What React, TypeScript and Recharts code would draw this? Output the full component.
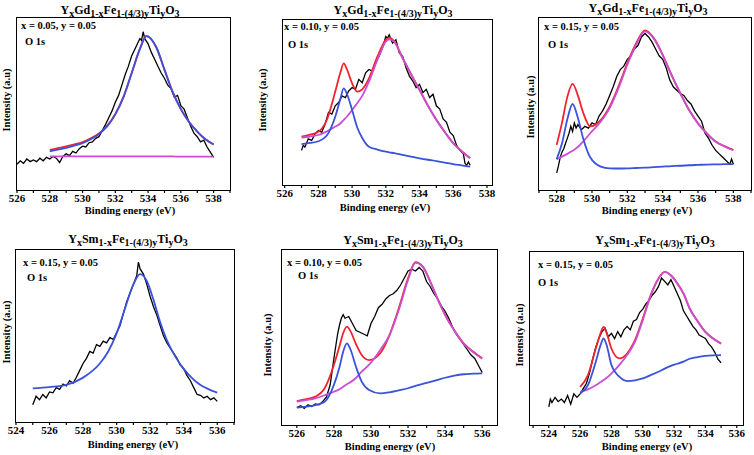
import { LineChart, Line, XAxis, YAxis } from "recharts";

type Pt = [number, number];

// ---- panel 1: YxGd, x = 0.05 ----
const p1Raw: Pt[] = [
  [526.0, 15], [526.2, 17], [526.4, 15.5], [526.6, 18], [526.8, 16.5], [527.0, 17.5], [527.2, 16.5], [527.4, 18.5],
  [527.6, 17], [527.8, 19], [528.0, 18], [528.2, 19.5], [528.4, 18.5], [528.6, 16], [528.8, 19.5], [529.0, 21],
  [529.2, 20], [529.4, 22.5], [529.6, 21.5], [529.8, 24], [530.0, 25.5], [530.2, 25], [530.4, 27.5], [530.6, 28],
  [530.8, 30], [531.0, 31], [531.2, 34.5], [531.4, 38], [531.6, 42], [531.8, 46], [532.0, 51], [532.2, 55],
  [532.4, 61], [532.6, 67], [532.8, 72], [533.0, 78], [533.2, 82], [533.4, 86], [533.5, 88], [533.6, 87],
  [533.7, 92], [533.8, 88], [534.0, 85], [534.2, 80], [534.4, 76], [534.6, 72], [534.8, 68], [535.0, 65],
  [535.2, 61], [535.4, 59], [535.6, 54], [535.8, 55], [536.0, 49], [536.2, 47], [536.4, 42], [536.6, 37],
  [536.8, 33], [537.0, 31], [537.2, 28], [537.4, 29], [537.6, 25], [537.8, 22], [538.0, 19],
];
const p1FitE = [528, 528.5, 529, 529.5, 530, 530.5, 531, 531.5, 532, 532.5, 533, 533.5, 533.9, 534.5, 535, 535.5, 536, 536.5, 537, 537.5, 538];
const p1Red = [23.3, 24.3, 25.3, 26.5, 27.9, 30, 32.9, 37.3, 44.2, 54.1, 68, 82, 89.6, 83, 70, 57, 47, 39.5, 34, 29.5, 26.5];
const p1Blue = [22.5, 23.5, 24.5, 25.8, 27.3, 29.5, 32.5, 37, 44, 54, 68, 82, 89.5, 83, 70, 57, 47, 39.5, 34, 29.5, 26.5];
const p1Pink = [19.6, 19.6, 19.6, 19.6, 19.6, 19.5, 19.5, 19.5, 19.5, 19.5, 19.5, 19.5, 19.5, 19.5, 19.5, 19.5, 19.4, 19.4, 19.4, 19.4, 19.4];

// ---- panel 2: YxGd, x = 0.10 ----
const p2Raw: Pt[] = [
  [527.0, 21], [527.1, 24], [527.2, 23], [527.4, 28], [527.6, 27], [527.8, 31], [528.0, 33], [528.2, 32],
  [528.4, 37], [528.6, 44], [528.8, 43], [529.0, 48], [529.2, 50], [529.4, 54], [529.6, 53], [529.8, 57],
  [530.0, 59], [530.2, 58], [530.4, 64], [530.6, 62], [530.8, 68], [531.0, 70], [531.2, 69], [531.4, 75],
  [531.6, 78], [531.8, 83], [532.0, 90], [532.1, 89], [532.2, 91], [532.4, 86], [532.6, 88], [532.8, 80],
  [533.0, 78], [533.2, 71], [533.4, 66], [533.6, 63], [533.8, 59], [534.0, 61], [534.2, 56], [534.4, 58],
  [534.6, 53], [534.8, 55], [535.0, 48], [535.2, 46], [535.4, 40], [535.6, 38], [535.8, 32], [536.0, 30],
  [536.2, 24], [536.4, 21], [536.6, 19], [536.7, 13], [536.8, 12], [536.9, 14], [537.0, 12],
];
const p2FitE = [527, 527.5, 528, 528.5, 529, 529.3, 529.5, 529.7, 530, 530.3, 530.6, 531, 531.5, 532, 532.2, 532.5, 533, 533.5, 534, 534.5, 535, 535.5, 536, 536.5, 537];
const p2Red = [29.3, 30.5, 32.3, 39.4, 56.6, 68, 73.7, 70, 61.6, 56.6, 58, 64.6, 77.8, 87.9, 89.3, 87, 76.9, 67.1, 57.7, 48.1, 39.5, 32.1, 25.4, 20.5, 16.3];
const p2Blue = [24.8, 25.5, 26.5, 30, 41.4, 52, 58.6, 55, 45.5, 35, 28.5, 23.2, 21.5, 20.2, 19.8, 19.3, 18.2, 17.2, 16.2, 15.3, 14.5, 13.6, 12.7, 11.9, 11.1];
const p2Pink = [28.7, 29.4, 30.3, 32.5, 35.4, 37.3, 39.4, 41.5, 45.5, 49.5, 54, 62.6, 75.8, 86.9, 88.3, 86.9, 76.8, 67, 57.6, 48, 39.4, 32, 25.3, 20.4, 16.2];

// ---- panel 3: YxGd, x = 0.15 ----
const p3Raw: Pt[] = [
  [528.0, 10], [528.1, 14], [528.2, 19], [528.3, 22], [528.4, 24], [528.5, 27], [528.6, 30], [528.7, 33],
  [528.8, 37], [528.9, 34], [529.0, 39], [529.1, 36], [529.2, 38], [529.4, 35], [529.6, 37], [529.8, 36],
  [530.0, 39], [530.2, 38], [530.4, 43], [530.6, 46], [530.8, 50], [531.0, 55], [531.2, 60], [531.4, 66],
  [531.6, 70], [531.8, 72], [532.0, 76], [532.2, 78], [532.4, 82], [532.6, 84], [532.8, 89], [533.0, 91],
  [533.2, 89], [533.4, 86], [533.6, 82], [533.8, 78], [534.0, 76], [534.2, 71], [534.4, 64], [534.6, 60],
  [534.8, 58], [535.0, 56], [535.2, 55], [535.4, 52], [535.6, 50], [535.8, 46], [536.0, 43], [536.2, 40],
  [536.4, 33], [536.6, 30], [536.8, 26], [537.0, 23], [537.2, 21], [537.4, 19], [537.6, 17], [537.8, 15],
  [537.9, 18], [538.0, 15],
];
const p3FitE = [528, 528.3, 528.6, 528.9, 529.2, 529.5, 529.9, 530.5, 531, 531.5, 532, 532.5, 533, 533.5, 534, 534.5, 535, 535.5, 536, 536.5, 537, 537.5, 538];
const p3Red = [26.2, 39, 54, 61.7, 55, 45, 37, 40.8, 48.5, 60.2, 73.8, 85.4, 92.8, 88.3, 78.6, 67, 56.3, 46.5, 38.8, 33, 28.2, 25.5, 23.3];
const p3Blue = [17.9, 27, 41, 50, 42, 30, 19, 13.6, 12.6, 12.5, 12.6, 12.8, 13, 13.3, 13.6, 13.9, 14.1, 14.4, 14.6, 14.8, 14.9, 15, 15.1];
const p3Pink = [17.9, 19.4, 21, 22.8, 25, 28.2, 33, 39.8, 47.6, 59.2, 72.8, 84.5, 92.2, 88, 78.4, 66.8, 56.1, 46.3, 38.6, 32.8, 28, 25.3, 23.1];

// ---- panel 4: YxSm, x = 0.15 (single fit) ----
const p4Raw: Pt[] = [
  [525.0, 10], [525.2, 15], [525.4, 13], [525.6, 16], [525.8, 14], [526.0, 17.5], [526.2, 17], [526.4, 20],
  [526.6, 19], [526.8, 22], [527.0, 21], [527.2, 24], [527.4, 22.5], [527.6, 26], [527.8, 30], [528.0, 34],
  [528.2, 37], [528.4, 41], [528.6, 40], [528.8, 45], [529.0, 44], [529.2, 47], [529.4, 46], [529.6, 49],
  [529.8, 48], [530.0, 52], [530.2, 56], [530.4, 63], [530.6, 70], [530.8, 75], [531.0, 80], [531.2, 85],
  [531.3, 93], [531.4, 89], [531.6, 86], [531.8, 80], [532.0, 73], [532.2, 67], [532.4, 62], [532.6, 56],
  [532.8, 50], [533.0, 46], [533.2, 43], [533.4, 40], [533.6, 37], [533.8, 33], [534.0, 31], [534.2, 27],
  [534.4, 24], [534.6, 20], [534.8, 16], [535.0, 15.5], [535.2, 14], [535.4, 15], [535.6, 13], [535.8, 14],
  [536.0, 12],
];
const p4FitE = [525, 526, 527, 528, 529, 529.5, 530, 530.5, 531, 531.4, 531.8, 532.2, 532.6, 533, 533.5, 534, 534.5, 535, 535.5, 536];
const p4Blue = [19.6, 20.3, 21.6, 25.8, 34, 41, 51.5, 66, 80, 86, 82, 71, 58, 47.4, 38, 30.9, 25.5, 21.5, 19, 17.1];

// ---- panel 5: YxSm, x = 0.10 ----
const p5Raw: Pt[] = [
  [526.0, 10], [526.2, 11], [526.4, 9.5], [526.6, 11.5], [526.8, 10.5], [527.0, 12], [527.2, 11.5], [527.4, 13.5],
  [527.6, 16], [527.8, 23], [528.0, 38], [528.2, 52], [528.3, 57], [528.4, 61], [528.5, 63], [528.6, 61],
  [528.8, 62], [529.0, 58], [529.2, 54], [529.4, 53], [529.6, 52], [529.8, 51], [530.0, 58], [530.2, 62],
  [530.4, 67], [530.6, 69], [530.8, 72], [531.0, 74], [531.2, 75], [531.4, 77], [531.6, 80], [531.8, 84],
  [532.0, 88], [532.2, 89], [532.4, 88], [532.6, 90], [532.8, 88], [533.0, 82], [533.2, 79], [533.4, 75],
  [533.6, 72], [533.8, 68], [534.0, 65], [534.2, 61], [534.4, 56], [534.6, 52], [534.8, 49], [535.0, 46],
  [535.2, 43], [535.4, 40], [535.6, 38], [535.8, 34], [536.0, 30],
];
const p5FitE = [526, 526.5, 527, 527.5, 528, 528.3, 528.5, 528.7, 528.9, 529.2, 529.5, 529.9, 530.5, 531, 531.5, 532, 532.4, 532.8, 533.2, 533.6, 534, 534.5, 535, 535.5, 536];
const p5Red = [13.7, 14.8, 16.2, 21, 34.3, 45, 52.4, 56.2, 53.5, 46, 40, 37.1, 41, 51.4, 66.7, 83.8, 93, 90.5, 82, 72, 63, 54, 46.7, 42, 38.1];
const p5Blue = [9.9, 10.5, 11.4, 13.3, 22.9, 33, 41.9, 46.7, 43, 33, 24.8, 20, 18.1, 18.7, 19.8, 21, 22.3, 23.5, 24.6, 25.8, 27, 28.2, 29, 29.3, 29.5];
const p5Pink = [13.3, 14.2, 15.2, 17, 19, 20.4, 21.9, 23.3, 24.5, 27, 30.5, 34.5, 42.9, 51.4, 65.7, 82.9, 92.8, 90.3, 81.8, 71.8, 62.8, 53.8, 46.5, 41.8, 37.9];

// ---- panel 6: YxSm, x = 0.15 ----
const p6Raw: Pt[] = [
  [524.0, 10.5], [524.1, 15], [524.2, 13], [524.4, 16], [524.6, 13.5], [524.8, 15], [525.0, 13], [525.2, 17],
  [525.4, 12], [525.6, 18], [525.8, 16], [526.0, 18], [526.2, 21], [526.4, 24], [526.6, 30], [526.8, 38],
  [527.0, 45], [527.2, 50], [527.4, 54], [527.6, 56], [527.8, 51], [528.0, 53], [528.2, 50], [528.4, 54],
  [528.6, 51], [528.8, 55], [529.0, 57], [529.2, 55], [529.4, 60], [529.6, 61], [529.8, 65], [530.0, 67],
  [530.2, 70], [530.4, 72], [530.6, 75], [530.8, 77], [531.0, 80], [531.2, 85], [531.4, 83], [531.6, 81],
  [531.8, 84], [532.0, 80], [532.2, 76], [532.4, 72], [532.6, 66], [532.8, 63], [533.0, 60], [533.2, 57],
  [533.4, 55], [533.6, 52], [533.8, 51], [534.0, 50], [534.2, 47], [534.4, 45], [534.6, 42], [534.8, 38],
  [535.0, 36],
];
const p6FitE = [526, 526.5, 527, 527.3, 527.5, 527.7, 528, 528.5, 529, 529.5, 530, 530.5, 531, 531.4, 531.8, 532.2, 532.6, 533, 533.5, 534, 534.5, 535];
const p6Red = [22.1, 28.8, 44.2, 53, 56.7, 53, 44.2, 38.5, 41.3, 49, 61.5, 75, 84.6, 88.5, 86.5, 82, 76, 67.3, 60, 53.8, 50, 47.1];
const p6Blue = [18.3, 23, 36.5, 46, 50, 46, 34.6, 27.9, 25.4, 25.8, 26.9, 28.8, 30.8, 32.6, 34.2, 35.4, 36.6, 38.3, 39.3, 40, 40.3, 40.4];
const p6Pink = [19.2, 20.6, 23, 24.8, 26, 27.3, 29.8, 34.6, 40.4, 48, 60.6, 74.6, 84.6, 88.5, 86.4, 81.9, 75.9, 67.2, 59.9, 53.7, 49.9, 47];

const RED = "#f1232f";
const BLUE = "#3a52dc";
const PINK = "#c84fd4";
const serif = '"Liberation Serif", "DejaVu Serif", serif';

const range = (a: number, b: number) => {
  const out: number[] = [];
  for (let v = a; v <= b; v++) out.push(v);
  return out;
};
const zip = (xs: number[], ys: number[]) => xs.map((x, i) => ({ x, y: ys[i] }));

interface PanelProps {
  x0: number; x1: number; y0: number; y1: number;
  domain: [number, number];
  ticks: number[];
  raw: Pt[];
  fitE: number[];
  red?: number[];
  blue?: number[];
  pink?: number[];
}

function Panel({ x0, x1, y0, y1, domain, ticks, raw, fitE, red, blue, pink }: PanelProps) {
  const bw = x1 - x0;
  const bh = y1 - y0;
  return (
    <>
      <div style={{ position: "absolute", left: x0 - 20, top: y0 - 5 }}>
        <LineChart width={bw + 40} height={bh + 40} margin={{ top: 5, right: 20, bottom: 5, left: 20 }}>
          <XAxis
            dataKey="x" type="number" domain={domain} allowDataOverflow ticks={ticks} interval={0}
            tickFormatter={(v: number) => (Math.round(v) % 2 === 0 ? String(v) : "")}
            tickSize={3} tickMargin={1} tickLine={{ stroke: "#000", strokeWidth: 1.2 }} axisLine={false} height={30}
            tick={{ fill: "#000", fontSize: 11, fontWeight: 700, fontFamily: serif }}
          />
          <YAxis type="number" domain={[0, 100]} allowDataOverflow tick={false} tickLine={false} width={0} axisLine={false} />
          <Line data={raw.map(([x, y]) => ({ x, y }))} dataKey="y" type="linear" stroke="#000" strokeWidth={1.3} dot={false} isAnimationActive={false} />
          {red && <Line data={zip(fitE, red)} dataKey="y" type="monotone" stroke={RED} strokeWidth={1.8} dot={false} isAnimationActive={false} />}
          {pink && <Line data={zip(fitE, pink)} dataKey="y" type="monotone" stroke={PINK} strokeWidth={1.8} dot={false} isAnimationActive={false} />}
          {blue && <Line data={zip(fitE, blue)} dataKey="y" type="monotone" stroke={BLUE} strokeWidth={1.8} dot={false} isAnimationActive={false} />}
        </LineChart>
      </div>
      {/* plot frame */}
      <div style={{ position: "absolute", left: x0 - 0.75, top: y0 - 0.75, width: bw + 1.5, height: bh + 1.5,
        border: "1.5px solid #000", boxSizing: "border-box", pointerEvents: "none" }} />
    </>
  );
}

const subS = { fontSize: 10, verticalAlign: "-3px" } as const;

function Title({ cx, cy, el }: { cx: number; cy: number; el: string }) {
  return (
    <div style={{ position: "absolute", left: cx, top: cy - 7, transform: "translateX(-50%)", whiteSpace: "nowrap",
      fontFamily: serif, fontWeight: 700, fontSize: 12, lineHeight: "14px", color: "#000" }}>
      Y<span style={subS}>x</span>{el}<span style={subS}>1-x</span>Fe<span style={subS}>1-(4/3)y</span>Ti<span style={subS}>y</span>O<span style={subS}>3</span>
    </div>
  );
}

function Txt({ x, y, children, size = 10.5, center = false, rotate = false }: { x: number; y: number; children: string; size?: number; center?: boolean; rotate?: boolean }) {
  const tf = rotate ? "translate(-50%, -50%) rotate(-90deg)" : center ? "translate(-50%, -50%)" : "translateY(-50%)";
  return (
    <div style={{ position: "absolute", left: x, top: y, transform: tf, whiteSpace: "nowrap",
      fontFamily: serif, fontWeight: 700, fontSize: size, lineHeight: "12px", color: "#000" }}>
      {children}
    </div>
  );
}

export default function App() {
  return (
    <div style={{ position: "relative", width: 754, height: 455, background: "#fff", overflow: "hidden" }}>
      <style>{"body{margin:0}"}</style>

      <Panel x0={17} x1={230} y0={18} y1={190} domain={[526, 539]} ticks={range(526, 539)} raw={p1Raw} fitE={p1FitE} red={p1Red} blue={p1Blue} pink={p1Pink} />
      <Panel x0={283} x1={492} y0={20} y1={185} domain={[525.9, 538.3]} ticks={range(526, 538)} raw={p2Raw} fitE={p2FitE} red={p2Red} blue={p2Blue} pink={p2Pink} />
      <Panel x0={539} x1={751} y0={18} y1={190} domain={[527, 539]} ticks={range(527, 539)} raw={p3Raw} fitE={p3FitE} red={p3Red} blue={p3Blue} pink={p3Pink} />
      <Panel x0={16} x1={234} y0={250} y1={422} domain={[524, 537]} ticks={range(524, 537)} raw={p4Raw} fitE={p4FitE} blue={p4Blue} />
      <Panel x0={282} x1={497} y0={250} y1={425} domain={[525.2, 536.8]} ticks={range(526, 536)} raw={p5Raw} fitE={p5FitE} red={p5Red} blue={p5Blue} pink={p5Pink} />
      <Panel x0={530} x1={743} y0={252} y1={425} domain={[522.8, 536.4]} ticks={range(523, 536)} raw={p6Raw} fitE={p6FitE} red={p6Red} blue={p6Blue} pink={p6Pink} />

      <Title cx={120} cy={10} el="Gd" />
      <Title cx={393} cy={10} el="Gd" />
      <Title cx={648} cy={8} el="Gd" />
      <Title cx={128} cy={239} el="Sm" />
      <Title cx={403} cy={240} el="Sm" />
      <Title cx={655} cy={240} el="Sm" />

      <Txt x={21} y={26}>x = 0.05, y = 0.05</Txt>
      <Txt x={25} y={42}>O 1s</Txt>
      <Txt x={284} y={27}>x = 0.10, y = 0.05</Txt>
      <Txt x={288} y={45}>O 1s</Txt>
      <Txt x={544} y={27}>x = 0.15, y = 0.05</Txt>
      <Txt x={548} y={45}>O 1s</Txt>
      <Txt x={23} y={263}>x = 0.15, y = 0.05</Txt>
      <Txt x={27} y={278}>O 1s</Txt>
      <Txt x={287} y={263}>x = 0.10, y = 0.05</Txt>
      <Txt x={298} y={276}>O 1s</Txt>
      <Txt x={538} y={265}>x = 0.15, y = 0.05</Txt>
      <Txt x={538} y={283}>O 1s</Txt>

      <Txt x={7} y={100} rotate>Intensity (a.u)</Txt>
      <Txt x={263} y={100} rotate>Intensity (a.u)</Txt>
      <Txt x={531} y={107} rotate>Intensity (a.u)</Txt>
      <Txt x={7} y={332} rotate>Intensity (a.u)</Txt>
      <Txt x={268} y={345} rotate>Intensity (a.u)</Txt>
      <Txt x={520} y={335} rotate>Intensity (a.u)</Txt>

      <Txt x={130} y={211} center>Binding energy (eV)</Txt>
      <Txt x={385} y={208} center>Binding energy (eV)</Txt>
      <Txt x={647} y={211} center>Binding energy (eV)</Txt>
      <Txt x={133} y={445} center>Binding energy (eV)</Txt>
      <Txt x={390} y={447} center>Binding energy (eV)</Txt>
      <Txt x={647} y={447} center>Binding energy (eV)</Txt>
    </div>
  );
}
